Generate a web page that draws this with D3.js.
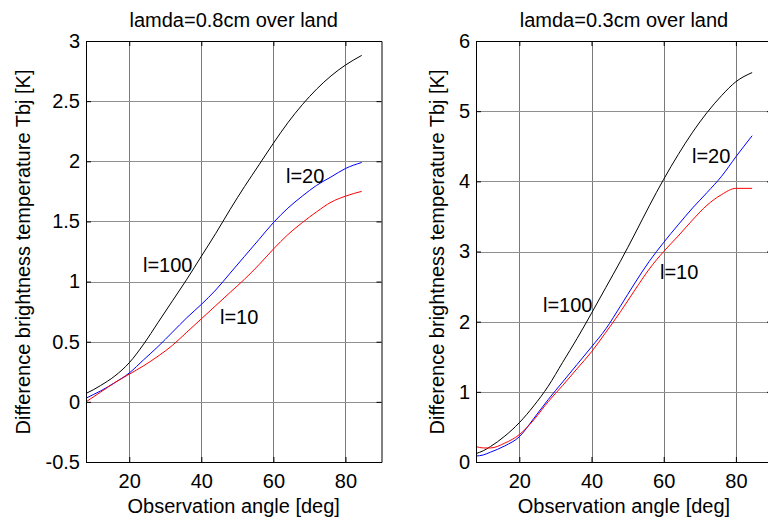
<!DOCTYPE html>
<html>
<head>
<meta charset="utf-8">
<script src="https://cdn.jsdelivr.net/npm/d3@7"></script>
<style>
  body { margin: 0; background: #fff; }
  svg { display: block; overflow: hidden; }
  text { font-family: "Liberation Sans", Arial, sans-serif; }
</style>
</head>
<body>
<svg id="svg" width="768" height="519"></svg>
<script>
// observation angles [deg], shared by every curve
var angles = [8, 10, 12, 16, 20, 24, 28, 32, 36, 40, 44, 48, 52, 56, 60, 64, 68, 72, 76, 80, 84.5];

// lamda = 0.8 cm
var l100_08 = [0.07, 0.10, 0.135, 0.215, 0.325, 0.48, 0.66, 0.84, 1.02, 1.21, 1.40, 1.60, 1.79, 1.97, 2.15, 2.32, 2.47, 2.60, 2.71, 2.80, 2.88];
var l20_08  = [0.03, 0.06, 0.09, 0.16, 0.24, 0.35, 0.46, 0.58, 0.70, 0.81, 0.93, 1.07, 1.21, 1.35, 1.49, 1.61, 1.71, 1.80, 1.87, 1.94, 1.99];
var l10_08  = [0.00, 0.04, 0.08, 0.16, 0.23, 0.30, 0.38, 0.47, 0.58, 0.69, 0.80, 0.91, 1.02, 1.14, 1.27, 1.39, 1.49, 1.58, 1.66, 1.71, 1.75];

// lamda = 0.3 cm
var l100_03 = [0.12, 0.16, 0.22, 0.37, 0.56, 0.80, 1.08, 1.42, 1.76, 2.12, 2.49, 2.86, 3.25, 3.65, 4.03, 4.38, 4.70, 4.98, 5.22, 5.42, 5.55];
var l20_03  = [0.085, 0.10, 0.14, 0.23, 0.36, 0.62, 0.89, 1.14, 1.39, 1.64, 1.90, 2.22, 2.55, 2.86, 3.13, 3.38, 3.62, 3.84, 4.07, 4.35, 4.65];
var l10_03  = [0.22, 0.20, 0.20, 0.27, 0.39, 0.60, 0.86, 1.09, 1.33, 1.57, 1.85, 2.14, 2.45, 2.75, 3.00, 3.22, 3.45, 3.66, 3.81, 3.90, 3.90];

var xTicks = [20, 40, 60, 80];
var yTicks08 = [-0.5, 0, 0.5, 1, 1.5, 2, 2.5, 3];
var yTicks03 = [0, 1, 2, 3, 4, 5, 6];

var titles = ["lamda=0.8cm over land", "lamda=0.3cm over land"];
var xLabel = "Observation angle [deg]";
var yLabel = "Difference brightness temperature Tbj [K]";

var svg = d3.select("#svg");

function panel(opt) {
  var x = d3.scaleLinear().domain([8, 90]).range([opt.left, opt.right]);
  var y = d3.scaleLinear().domain(opt.ydom).range([462, 41]);
  var g = svg.append("g");

  // grid
  g.append("g").selectAll("line").data(xTicks).enter().append("line")
    .attr("x1", d => Math.round(x(d)) + 0.5).attr("x2", d => Math.round(x(d)) + 0.5)
    .attr("y1", 41).attr("y2", 462)
    .attr("stroke", "#7a7a7a").attr("stroke-width", 1);
  g.append("g").selectAll("line").data(opt.yticks).enter().append("line")
    .attr("y1", d => Math.round(y(d)) + 0.5).attr("y2", d => Math.round(y(d)) + 0.5)
    .attr("x1", opt.left).attr("x2", opt.right)
    .attr("stroke", "#8f8f8f").attr("stroke-width", 1);

  // curves
  var line = d3.line()
    .x((d, i) => x(angles[i]))
    .y(d => y(d))
    .curve(d3.curveMonotoneX);
  opt.series.forEach(function(s) {
    g.append("path").datum(s.v)
      .attr("d", line)
      .attr("fill", "none")
      .attr("stroke", s.c)
      .attr("stroke-width", 1);
  });

  // axes (ticks inside, box all round)
  var fmt = d => String(d);
  var ax = [
    [d3.axisBottom(x).tickValues(xTicks).tickFormat(fmt).tickPadding(12), "translate(0,462)"],
    [d3.axisTop(x).tickValues(xTicks).tickFormat(""), "translate(0,41)"],
    [d3.axisLeft(y).tickValues(opt.yticks).tickFormat(fmt).tickPadding(6), "translate(" + opt.left + ",0)"],
    [d3.axisRight(y).tickValues(opt.yticks).tickFormat(""), "translate(" + opt.right + ",0)"]
  ];
  ax.forEach(function(a) {
    var ga = g.append("g").attr("transform", a[1])
      .call(a[0].tickSizeInner(-5).tickSizeOuter(0));
    ga.selectAll("text").attr("font-size", 20).attr("fill", "#000")
      .attr("font-family", "Liberation Sans, Arial, sans-serif");
    ga.selectAll("line, path").attr("stroke", "#000");
  });

  // texts
  var mid = (opt.left + opt.right) / 2;
  g.append("text").attr("x", mid).attr("y", 27).attr("text-anchor", "middle")
    .attr("font-size", 20).text(opt.title);
  g.append("text").attr("x", mid).attr("y", 513).attr("text-anchor", "middle")
    .attr("font-size", 20).text(xLabel);
  g.append("text")
    .attr("transform", "translate(" + opt.ylabx + ",252) rotate(-90)")
    .attr("text-anchor", "middle").attr("font-size", 20).text(yLabel);
  opt.notes.forEach(function(n) {
    g.append("text").attr("x", n[0]).attr("y", n[1]).attr("font-size", 20).text(n[2]);
  });
}

panel({
  left: 86, right: 381.5, ydom: [-0.5, 3], yticks: yTicks08, title: titles[0], ylabx: 29.5,
  series: [{v: l100_08, c: "#000"}, {v: l20_08, c: "#0000ff"}, {v: l10_08, c: "#ff0000"}],
  notes: [[286, 183, "l=20"], [143, 272, "l=100"], [220, 324, "l=10"]]
});
panel({
  left: 476, right: 772, ydom: [0, 6], yticks: yTicks03, title: titles[1], ylabx: 444,
  series: [{v: l100_03, c: "#000"}, {v: l20_03, c: "#0000ff"}, {v: l10_03, c: "#ff0000"}],
  notes: [[692, 163, "l=20"], [543, 312, "l=100"], [660, 279, "l=10"]]
});
</script>
</body>
</html>
